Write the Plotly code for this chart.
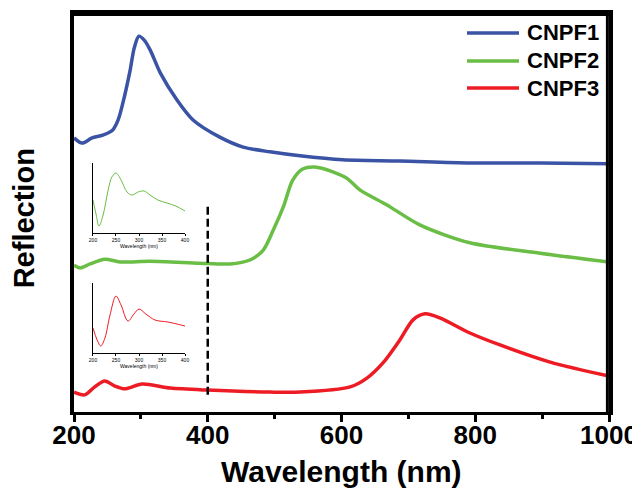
import plotly.graph_objects as go

# ---------------- data ----------------
series_names = ["CNPF1", "CNPF2", "CNPF3"]
series_colors = ["#3A53A4", "#6ABD45", "#ED1C24"]

cnpf1_nm = [200, 212, 227, 243, 258, 266, 273, 284, 290, 297, 305, 314, 329, 354, 378, 418, 453, 493, 538, 602, 687, 792, 897, 1000]
cnpf1_r = [68.7, 67.4, 68.7, 69.4, 70.7, 73.2, 77.4, 85.7, 91.2, 94.2, 93.2, 90.7, 85.0, 78.2, 73.2, 68.9, 66.4, 65.2, 64.2, 63.2, 62.9, 62.4, 62.4, 62.2]

cnpf2_nm = [200, 209, 224, 246, 269, 314, 388, 433, 463, 483, 498, 513, 527, 542, 560, 587, 608, 628, 668, 717, 792, 897, 1000]
cnpf2_r = [36.8, 36.1, 37.1, 38.3, 37.6, 37.8, 37.3, 37.1, 38.1, 40.6, 45.6, 51.4, 58.1, 60.9, 61.4, 60.2, 58.6, 55.6, 51.9, 46.9, 42.4, 39.8, 37.6]

cnpf3_nm = [200, 216, 231, 246, 261, 276, 302, 344, 399, 493, 538, 613, 638, 662, 687, 707, 725, 747, 792, 837, 912, 1000]
cnpf3_r = [5.0, 4.3, 6.3, 7.8, 6.5, 5.8, 7.0, 6.0, 5.5, 5.0, 5.0, 6.3, 8.5, 12.3, 18.0, 23.1, 24.6, 23.6, 19.8, 16.8, 12.5, 9.0]

# inset (zoom of 200-400 nm region)
inset2_nm = [200, 207, 213, 222, 233, 241, 250, 261, 274, 285, 298, 311, 324, 341, 361, 380, 400]
inset2_r = [33, 18, 7, 18, 43, 56, 60, 53, 41, 38, 41, 42, 38, 33, 30, 27, 22]
inset3_nm = [200, 209, 217, 226, 237, 250, 261, 276, 289, 300, 315, 335, 363, 400]
inset3_r = [25, 13, 7, 15, 38, 57, 48, 32, 39, 44, 39, 33, 31, 27]

x_ticks = [200, 400, 600, 800, 1000]
x_minor = [300, 500, 700, 900]
inset_ticks = [200, 250, 300, 350, 400]
cutoff_nm = 400
cutoff_r = [4.3, 51.9]

FONT = "Liberation Sans, Arial, sans-serif"

fig = go.Figure()
main_x = [cnpf1_nm, cnpf2_nm, cnpf3_nm]
main_y = [cnpf1_r, cnpf2_r, cnpf3_r]
for name, col, xs, ys in zip(series_names, series_colors, main_x, main_y):
    fig.add_trace(go.Scatter(x=xs, y=ys, mode="lines", name=name,
                             line=dict(color=col, width=3.5, shape="spline", smoothing=0.8),
                             showlegend=False))

# dashed separator
fig.add_trace(go.Scatter(x=[cutoff_nm, cutoff_nm], y=cutoff_r, mode="lines",
                         line=dict(color="black", width=2.5, dash="8px,4px"), showlegend=False))

# insets
fig.add_trace(go.Scatter(x=inset2_nm, y=inset2_r, mode="lines", xaxis="x2", yaxis="y2",
                         line=dict(color=series_colors[1], width=1, shape="spline"), showlegend=False))
fig.add_trace(go.Scatter(x=inset3_nm, y=inset3_r, mode="lines", xaxis="x3", yaxis="y3",
                         line=dict(color=series_colors[2], width=1, shape="spline"), showlegend=False))

# frame (top and right edges), just inside the plot area
fig.add_shape(type="line", xref="x domain", yref="y domain", x0=0, x1=1, y0=0.996, y1=0.996,
              line=dict(color="black", width=3), layer="above")
fig.add_shape(type="line", xref="x domain", yref="y domain", x0=0.997, x1=0.997, y0=0, y1=1,
              line=dict(color="black", width=3), layer="above")

# manual legend
leg_y = [0.9499, 0.8797, 0.812]
for name, col, yy in zip(series_names, series_colors, leg_y):
    fig.add_shape(type="line", xref="paper", yref="paper", x0=0.7346, x1=0.8318, y0=yy, y1=yy,
                  line=dict(color=col, width=3.5))
    fig.add_annotation(x=0.843, y=yy, xref="paper", yref="paper", text=name, showarrow=False,
                       xanchor="left", yanchor="middle",
                       font=dict(family=FONT, size=22, color="black", weight="bold"))

# axis titles
fig.add_annotation(x=-0.093, y=0.486, xref="paper", yref="paper", text="Reflection",
                   showarrow=False, textangle=-90, xanchor="center", yanchor="middle",
                   font=dict(family=FONT, size=29, color="black", weight="bold"))
fig.add_annotation(x=0.5, y=-0.15, xref="paper", yref="paper", text="Wavelength (nm)",
                   showarrow=False, xanchor="center", yanchor="middle",
                   font=dict(family=FONT, size=30, color="black", weight="bold"))

inset_axis = dict(showline=True, linecolor="black", linewidth=1, ticks="outside", ticklen=2,
                  tickwidth=0.8, tickcolor="black", showgrid=False, zeroline=False,
                  tickvals=inset_ticks, range=[200, 400], automargin=False,
                  tickfont=dict(family=FONT, size=5, color="black"),
                  title=dict(text="Wavelength (nm)", font=dict(family=FONT, size=5, color="black"),
                             standoff=1))
inset_yaxis = dict(showline=True, linecolor="black", linewidth=1, ticks="", showticklabels=False,
                   showgrid=False, zeroline=False, range=[0, 70], automargin=False)

fig.update_layout(
    width=632, height=481,
    margin=dict(l=66, r=31, t=5, b=77, autoexpand=False),
    paper_bgcolor="white", plot_bgcolor="white",
    xaxis=dict(range=[200, 1000], tickvals=x_ticks, ticks="outside", ticklen=7, tickwidth=3,
               tickcolor="black", showline=True, linecolor="black", linewidth=3, mirror=True,
               showgrid=False, zeroline=False, automargin=False, ticklabelstandoff=-9,
               minor=dict(tickvals=x_minor, ticks="outside", ticklen=4, tickwidth=3,
                          tickcolor="black"),
               tickfont=dict(family=FONT, size=26, color="black", weight="bold")),
    yaxis=dict(range=[0, 100], showticklabels=False, ticks="", showline=True, linecolor="black",
               linewidth=4, mirror=True, showgrid=False, zeroline=False, automargin=False),
    xaxis4=dict(overlaying="x", side="top", range=[200, 1000], showline=True, linecolor="black",
                linewidth=3, ticks="", showticklabels=False, showgrid=False, zeroline=False,
                automargin=False),
    yaxis4=dict(overlaying="y", side="right", range=[0, 100], showline=True, linecolor="black",
                linewidth=3, ticks="", showticklabels=False, showgrid=False, zeroline=False,
                automargin=False),
    xaxis2=dict(domain=[0.0355, 0.2075], anchor="y2", **inset_axis),
    yaxis2=dict(domain=[0.4486, 0.624], anchor="x2", **inset_yaxis),
    xaxis3=dict(domain=[0.0355, 0.2075], anchor="y3", **inset_axis),
    yaxis3=dict(domain=[0.148, 0.323], anchor="x3", **inset_yaxis),
)

fig.write_html("out.html")
